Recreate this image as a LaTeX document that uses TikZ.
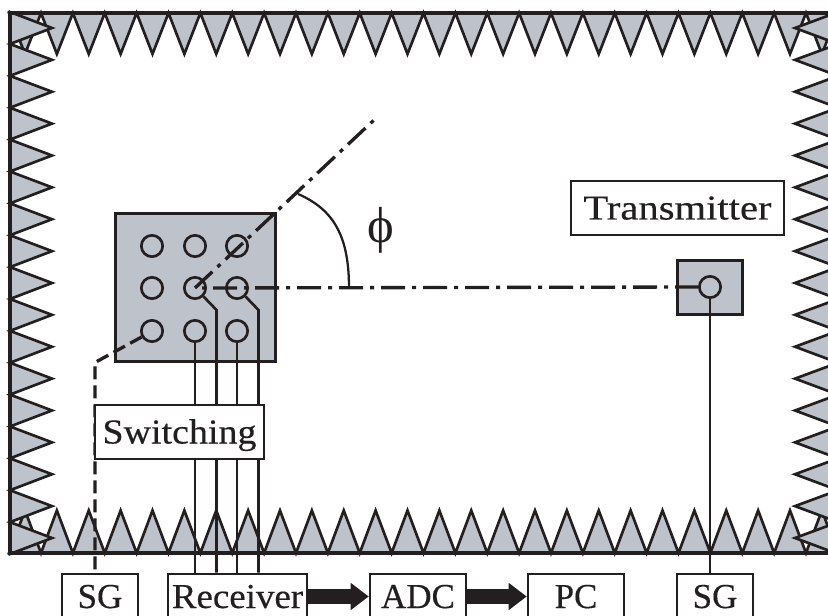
\documentclass[tikz,border=0pt]{standalone}
\usepackage{fontspec}
\setmainfont{Liberation Serif}[BoldFont={Liberation Serif},BoldFeatures={FakeBold=0.35}]
\newfontfamily\phifont{Liberation Serif}
\usetikzlibrary{arrows.meta}
\definecolor{ink}{HTML}{231F20}
\definecolor{absorber}{HTML}{BEC3CB}
\tikzset{
  tooth/.style={draw=ink,fill=absorber,line width=2pt,line join=miter},
  frameline/.style={draw=ink,line width=2.6pt},
  labelbox/.style={draw=ink,fill=white,line width=1.9pt,inner sep=0pt,text height=17.25pt,text depth=0pt,align=center,font=\fontsize{26.25pt}{30pt}\selectfont\bfseries,text=ink},
  panel/.style={draw=ink,fill=absorber,line width=2.25pt,inner sep=0pt},
  element/.style={circle,draw=ink,line width=2pt,minimum size=16pt,inner sep=0pt},
  wire/.style={draw=ink,line width=2pt},
  axisline/.style={draw=ink,line width=2.5pt,dash pattern=on 3pt off 5.25pt on 18pt off 5.25pt},
  feedline/.style={draw=ink,line width=2.5pt,dash pattern=on 9.75pt off 4.5pt},
  bigarrow/.style={draw=ink,line width=11.25pt,-{Triangle[length=13.5pt,width=19.5pt,fill=ink]},shorten >=0pt}
}
\begin{document}
\begin{tikzpicture}[x=0.75pt,y=-0.75pt]
\useasboundingbox (0,0) rectangle (828,616);
\clip (0,0) rectangle (828,616);
% absorber teeth
\path[tooth] (9,13) \foreach \k in {0,...,26} { -- ({25+\k*31.875},54) -- ({41+\k*31.875},13) } -- cycle;
\path[tooth] (9,553) \foreach \k in {0,...,26} { -- ({25+\k*31.875},510.5) -- ({41+\k*31.875},553) } -- cycle;
\path[tooth] (10,12) \foreach \k in {0,...,16} { -- (52,{28+\k*31.875}) -- (10,{44+\k*31.875}) } -- cycle;
\path[tooth] (838,12) \foreach \k in {0,...,16} { -- (795,{28+\k*31.875}) -- (838,{44+\k*31.875}) } -- cycle;
\path[frameline] (10,13) rectangle (840,553);
% receiving array
\node[panel,minimum width=120pt,minimum height=111pt] (array) at (195,288) {};
\foreach \col/\x in {1/152,2/195,3/237}
  \foreach \row/\y in {1/246,2/288,3/331}
    \node[element] (c\col\row) at (\x,\y) {};
% transmitter
\node[panel,minimum width=48.75pt,minimum height=40.5pt] (txpanel) at (709.5,288) {};
\node[element] (tx) at (710,287) {};
% wires to receiver
\coordinate (b1) at (216.5,310);
\coordinate (b2) at (258.5,310);
\node[labelbox,minimum width=57pt,minimum height=33.75pt] (sgl) at (100,596.5) {SG};
\node[labelbox,minimum width=104.25pt,minimum height=33.75pt] (recv) at (237.5,596.5) {\scalebox{1.055}[1]{Receiver}};
\node[labelbox,minimum width=72pt,minimum height=33.75pt] (adc) at (418,596.5) {ADC};
\node[labelbox,minimum width=72pt,minimum height=33.75pt] (pc) at (576,596.5) {PC};
\node[labelbox,minimum width=57pt,minimum height=33.75pt] (sgr) at (715,596.5) {SG};
\path[wire] (c23.south) -- (c23.south |- recv.north);
\path[wire] (c22.-45) -- (b1) -- (b1 |- recv.north);
\path[wire] (c33.south) -- (c33.south |- recv.north);
\path[wire] (c32.-45) -- (b2) -- (b2 |- recv.north);
\path[wire] (tx.south) -- (tx.south |- sgr.north);
% dash-dot axes
\coordinate (axisend) at (373.5,120.5);
\coordinate (axisstart) at (202,288);
\coordinate (knee) at (95,362.5);
\coordinate (feedend) at (95,570);
\path[axisline] (axisend) -- (c22.center);
\path[axisline] (axisstart) -- (tx.west);
\path[feedline] (c13.210) -- (knee) -- (feedend);
% labels over wires
\node[labelbox,minimum width=126.75pt,minimum height=40.5pt] (switch) at (179.5,432) {\scalebox{1.085}[1]{Switching}};
\node[labelbox,minimum width=159.75pt,minimum height=40.5pt] (txlabel) at (677.5,208) {\scalebox{1.16}[1]{Transmitter}};
% angle
\coordinate (ang1) at (298,194);
\coordinate (ang2) at (349,288);
\draw[wire,line width=1.7pt] (ang1) .. controls (335,210) and (349,238) .. (ang2);
\node[text=ink,inner sep=0pt,font=\fontsize{38pt}{40pt}\selectfont] (phi) at (381,230) {\phifont ϕ};
% signal arrows
\path[bigarrow] (recv.east) -- (adc.west);
\path[bigarrow] (adc.east) -- (pc.west);
\end{tikzpicture}
\end{document}
